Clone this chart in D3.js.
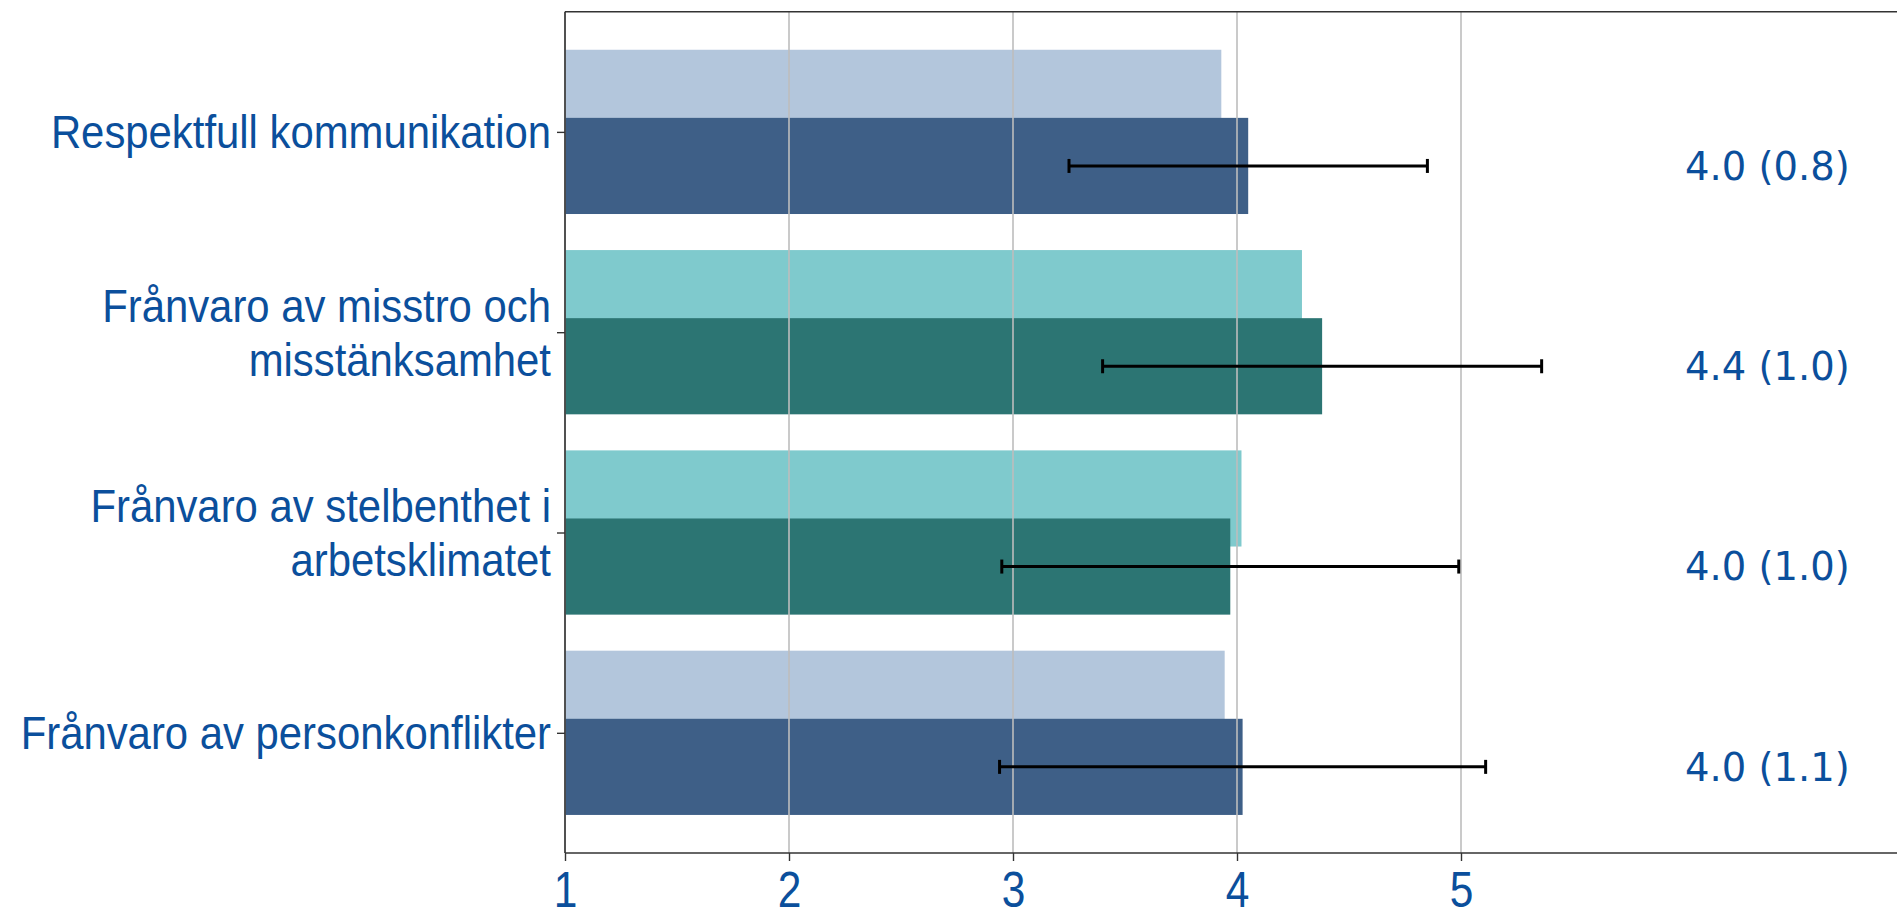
<!DOCTYPE html>
<html>
<head>
<meta charset="utf-8">
<script src="https://cdn.jsdelivr.net/npm/d3@7/dist/d3.min.js"></script>
<style>
  html, body { margin: 0; padding: 0; background: #fff; overflow: hidden; }
  svg { display: block; }
</style>
</head>
<body>
<svg id="chart" width="1897" height="910"></svg>
<script>
// ---- data ----
const categories = [
  ["Respektfull kommunikation"],
  ["Frånvaro av misstro och", "misstänksamhet"],
  ["Frånvaro av stelbenthet i", "arbetsklimatet"],
  ["Frånvaro av personkonflikter"]
];
const comparisonValues = [3.93, 4.29, 4.02, 3.945];   // lighter bar (background)
const meanValues       = [4.05, 4.38, 3.97, 4.025];   // darker bar
const sdValues         = [0.80, 0.98, 1.02, 1.085];   // error bar half-width
const valueLabels      = ["4.0 (0.8)", "4.4 (1.0)", "4.0 (1.0)", "4.0 (1.1)"];
const lightColors      = ["#b3c6dc", "#7fcacd", "#7fcacd", "#b3c6dc"];
const darkColors       = ["#3e5f87", "#2c7573", "#2c7573", "#3e5f87"];
const xTicks           = [1, 2, 3, 4, 5];

(function () {
// ---- layout ----
const svg = d3.select("#chart");
const pLeft = 565, pRight = 1909, pTop = 11.7, pBottom = 853;
const x = d3.scaleLinear().domain([1, 7]).range([pLeft, pRight]);
const y = d3.scaleLinear().domain([-0.6, 3.6]).range([pTop, pBottom]);
const barH = 0.48, off = 0.17;
const textBlue = "#0b4f9c";

// light bars
svg.append("g").selectAll("rect").data(comparisonValues).join("rect")
  .attr("x", x(1))
  .attr("y", (d, i) => y(i - off - barH / 2))
  .attr("width", d => x(d) - x(1))
  .attr("height", y(barH) - y(0))
  .attr("fill", (d, i) => lightColors[i]);

// dark bars
svg.append("g").selectAll("rect").data(meanValues).join("rect")
  .attr("x", x(1))
  .attr("y", (d, i) => y(i + off - barH / 2))
  .attr("width", d => x(d) - x(1))
  .attr("height", y(barH) - y(0))
  .attr("fill", (d, i) => darkColors[i]);

// grid lines (drawn over bars, as in reference)
svg.append("g").selectAll("line").data(xTicks).join("line")
  .attr("x1", d => x(d)).attr("x2", d => x(d))
  .attr("y1", pTop).attr("y2", pBottom)
  .attr("stroke", "#bdbdbd").attr("stroke-width", 1.6);

// error bars
const eb = svg.append("g").attr("stroke", "#000").attr("stroke-width", 3);
meanValues.forEach((m, i) => {
  const yc = y(i + off);
  const x0 = x(m - sdValues[i]), x1 = x(m + sdValues[i]);
  eb.append("line").attr("x1", x0).attr("x2", x1).attr("y1", yc).attr("y2", yc);
  eb.append("line").attr("x1", x0).attr("x2", x0).attr("y1", yc - 7).attr("y2", yc + 7);
  eb.append("line").attr("x1", x1).attr("x2", x1).attr("y1", yc - 7).attr("y2", yc + 7);
});

// value labels
svg.append("g").selectAll("text").data(valueLabels).join("text")
  .attr("x", x(6.0))
  .attr("y", (d, i) => y(i + off))
  .attr("dy", "0.36em")
  .attr("fill", textBlue)
  .attr("font-family", "DejaVu Sans")
  .attr("font-size", 38.5)
  .text(d => d);

// axes frame
const frame = svg.append("g").attr("stroke", "#333").attr("stroke-width", 1.6);
frame.append("line").attr("x1", pLeft).attr("x2", 1897).attr("y1", pTop).attr("y2", pTop);
frame.append("line").attr("x1", pLeft).attr("x2", 1897).attr("y1", pBottom).attr("y2", pBottom);
frame.append("line").attr("x1", pLeft).attr("x2", pLeft).attr("y1", pTop).attr("y2", pBottom);

// x axis
const xAxis = svg.append("g").attr("transform", `translate(0,${pBottom})`)
  .call(d3.axisBottom(x).tickValues(xTicks).tickFormat(d3.format("d")).tickSize(8));
xAxis.select(".domain").remove();
xAxis.selectAll(".tick line").attr("stroke", "#333").attr("stroke-width", 1.4);
xAxis.selectAll(".tick text")
  .attr("fill", textBlue).attr("font-family", "Liberation Sans, Arial, sans-serif")
  .attr("font-size", 50)
  .attr("y", 54).attr("dy", null)
  .attr("transform", "scale(0.85,1)");

// y axis ticks
const yAxis = svg.append("g").attr("transform", `translate(${pLeft},0)`)
  .call(d3.axisLeft(y).tickValues(d3.range(categories.length)).tickFormat("").tickSize(8));
yAxis.select(".domain").remove();
yAxis.selectAll(".tick line").attr("stroke", "#333").attr("stroke-width", 1.4);

// y labels (multi-line, slightly condensed like the reference)
const lineH = 54;
const lab = svg.append("g");
categories.forEach((lines, i) => {
  const t = lab.append("text")
    .attr("text-anchor", "end")
    .attr("fill", textBlue)
    .attr("font-family", "Liberation Sans, Arial, sans-serif")
    .attr("font-size", 46)
    .attr("transform", `translate(${pLeft - 14},0) scale(0.91,1)`);
  const n = lines.length;
  lines.forEach((s, k) => {
    t.append("tspan")
      .attr("x", 0)
      .attr("y", y(i) + (k - (n - 1) / 2) * lineH)
      .attr("dy", "0.36em")
      .text(s);
  });
});
})();
</script>
</body>
</html>
